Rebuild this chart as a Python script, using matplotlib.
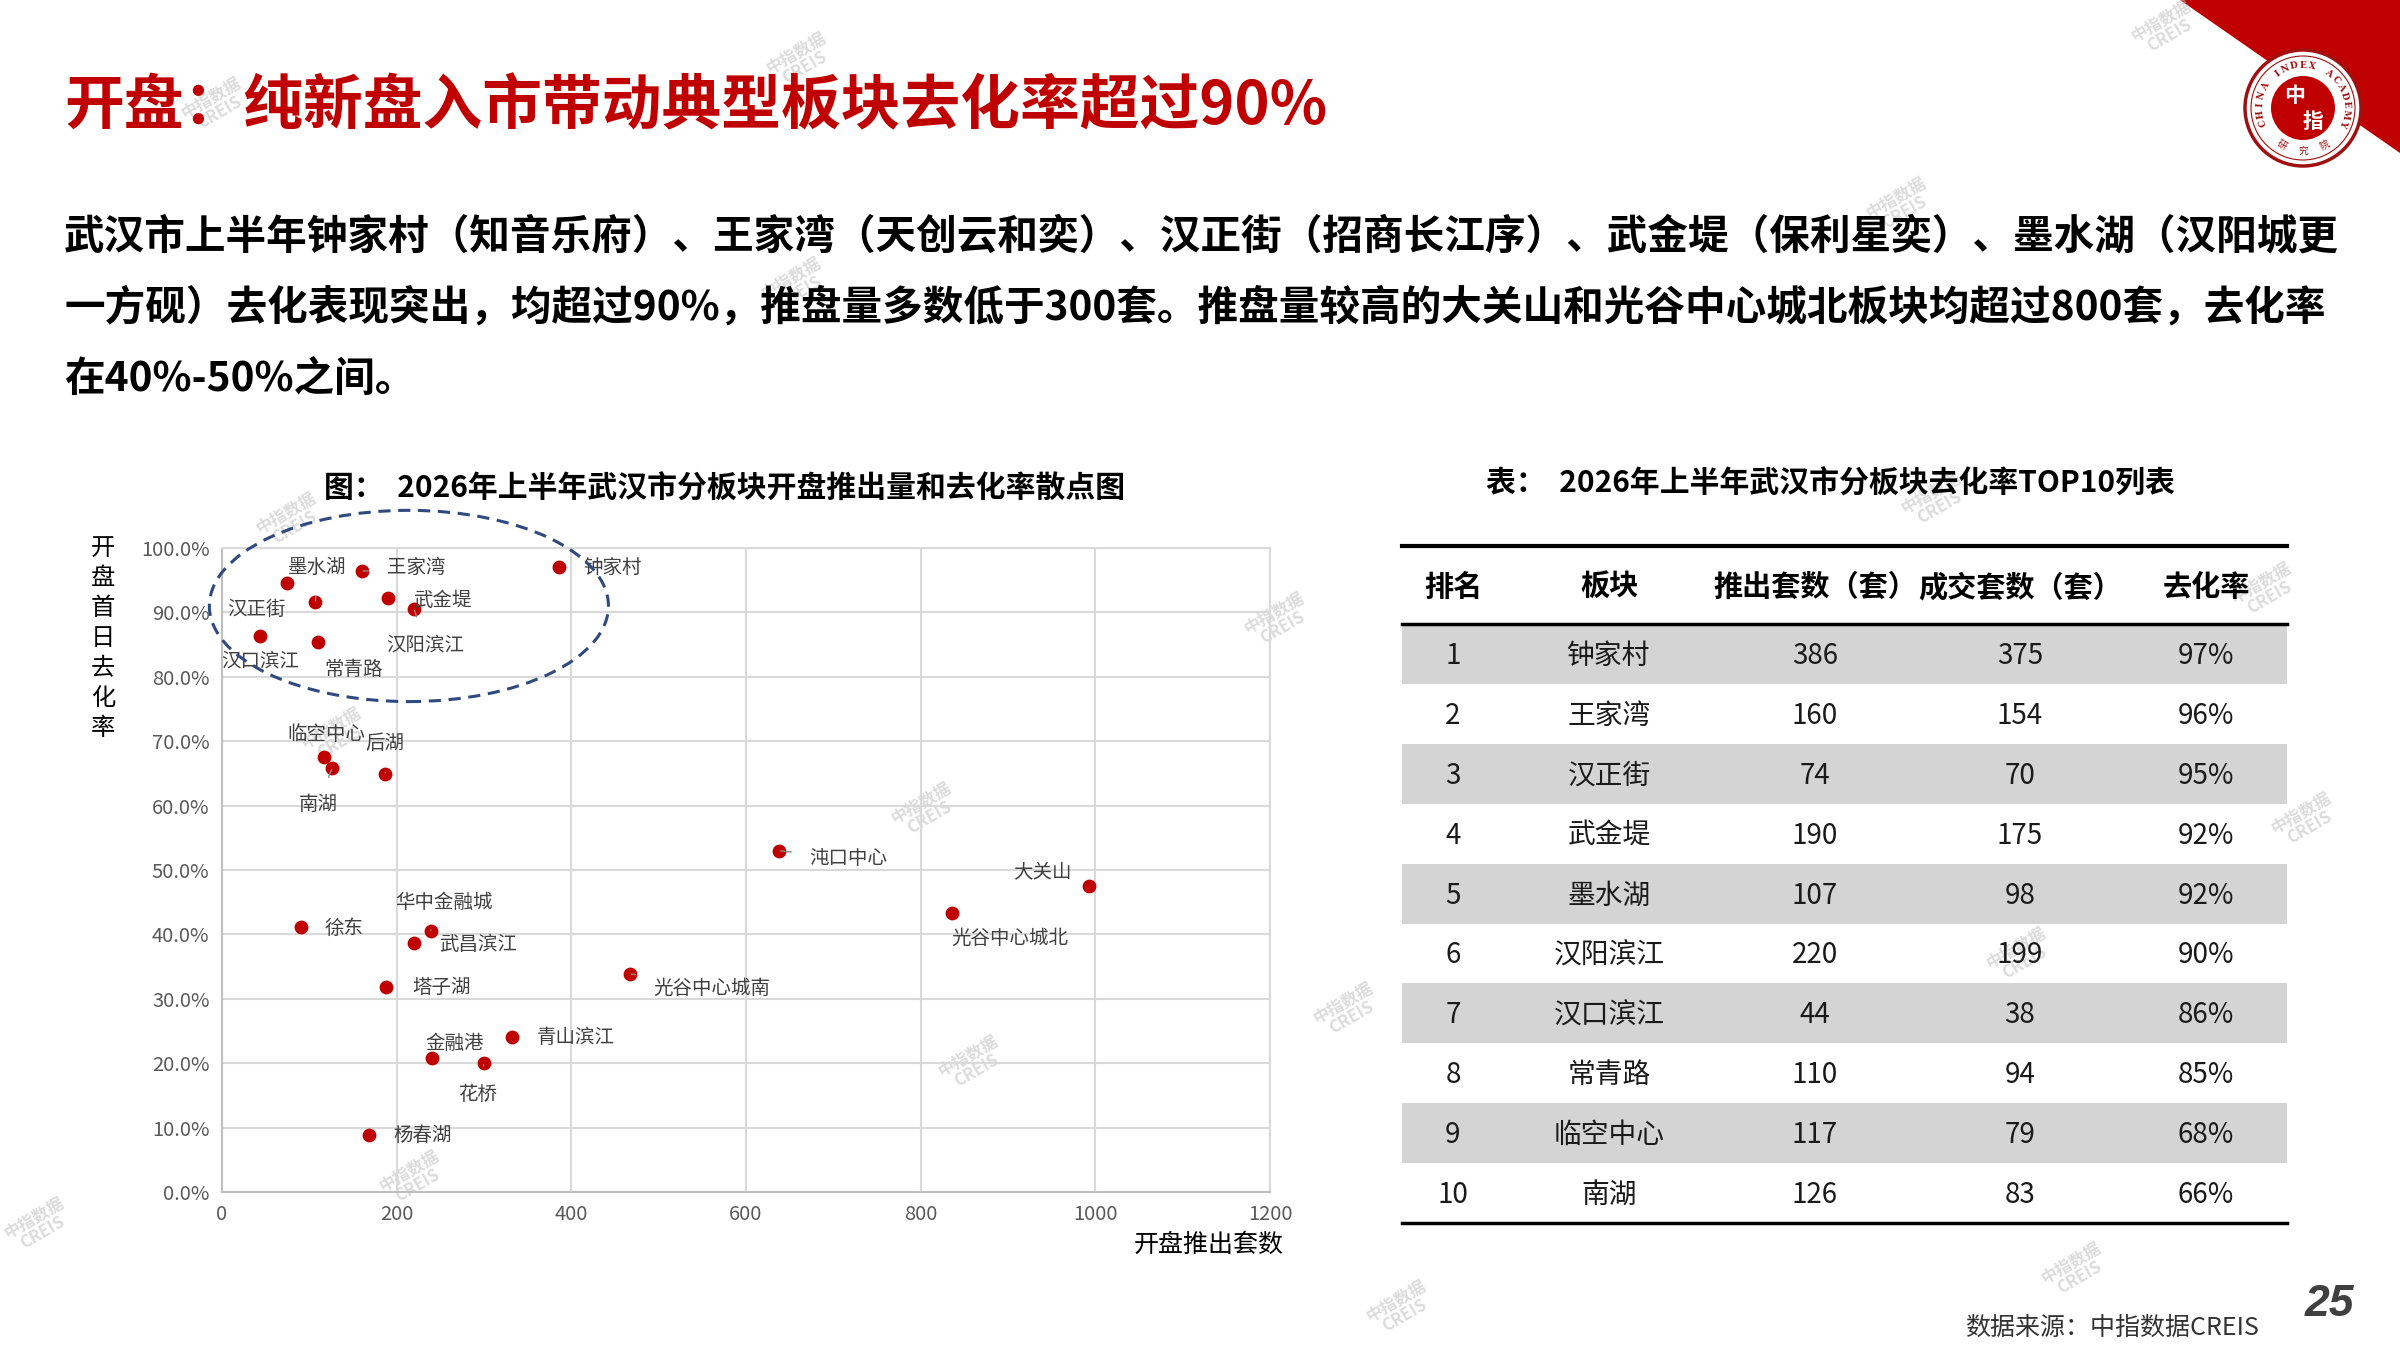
import numpy as np
import matplotlib
matplotlib.use("Agg")
import matplotlib.pyplot as plt
from matplotlib.patches import Ellipse, Rectangle, Polygon, Circle

plt.rcParams['font.family'] = ['Noto Sans CJK SC', 'DejaVu Sans']

# ---- data ----
names = ["钟家村", "王家湾", "墨水湖", "汉正街", "武金堤", "汉阳滨江", "汉口滨江", "常青路",
         "临空中心", "后湖", "南湖", "徐东", "华中金融城", "武昌滨江", "塔子湖", "金融港",
         "青山滨江", "花桥", "杨春湖", "沌口中心", "光谷中心城南", "大关山", "光谷中心城北"]
supply = [386, 160, 107, 74, 190, 220, 44, 110,
          117, 187, 126, 90, 239, 220, 188, 240,
          332, 300, 168, 638, 467, 993, 836]
rate = [97.1, 96.4, 91.6, 94.6, 92.2, 90.5, 86.3, 85.4,
        67.5, 64.9, 65.8, 41.1, 40.6, 38.6, 31.9, 20.8,
        24.1, 20.0, 8.9, 53.0, 33.9, 47.5, 43.4]
# label positions (data units) and whether a leader line is drawn
label_xy = [(447, 96.9), (222, 96.9), (109, 96.9), (40, 90.5), (252, 91.9), (233, 85.0),
            (44, 82.4), (151, 81.2), (119, 71.0), (186, 69.6), (110, 60.1), (140, 40.9),
            (254, 44.9), (293, 38.5), (251, 31.8), (266, 23.0), (405, 24.0), (293, 15.2),
            (230, 8.8), (717, 51.8), (561, 31.6), (939, 49.6), (902, 39.4)]
leader = ["王家湾", "墨水湖", "汉阳滨江", "后湖", "南湖", "华中金融城", "花桥", "沌口中心", "光谷中心城南"]

rank = list(range(1, 11))
top_names = ["钟家村", "王家湾", "汉正街", "武金堤", "墨水湖", "汉阳滨江", "汉口滨江", "常青路", "临空中心", "南湖"]
top_supply = [386, 160, 74, 190, 107, 220, 44, 110, 117, 126]
top_sold = [375, 154, 70, 175, 98, 199, 38, 94, 79, 83]
top_rate = ["97%", "96%", "95%", "92%", "92%", "90%", "86%", "85%", "68%", "66%"]
col_heads = ["排名", "板块", "推出套数（套）", "成交套数（套）", "去化率"]

RED = "#C00000"

fig = plt.figure(figsize=(24, 13.5), dpi=100)

# page layer in pixel coordinates
bg = fig.add_axes([0, 0, 1, 1])
bg.set_xlim(0, 2400)
bg.set_ylim(1350, 0)
bg.axis("off")

# watermarks
wm = [(800, 60), (215, 105), (2165, 28), (1900, 205), (795, 285), (290, 520), (1278, 620),
      (1935, 500), (2265, 590), (925, 810), (2305, 820), (335, 735), (1347, 1010), (2020, 955),
      (972, 1063), (413, 1178), (2075, 1270), (1400, 1308), (38, 1225)]
for x, y in wm:
    bg.text(x, y, "中指数据\nCREIS", fontsize=12, color="#bfbfbf", alpha=0.55, rotation=30,
            ha="center", va="center", linespacing=0.9, fontweight="bold")

# red corner + logo
bg.add_patch(Polygon([(2180, 0), (2400, 0), (2400, 153)], closed=True, color=RED, lw=0))
bg.add_patch(Circle((2303, 108), 58, facecolor="white", edgecolor="#a01010", lw=2.5))
bg.add_patch(Circle((2303, 108), 52, facecolor="none", edgecolor="#a01010", lw=0.8))
bg.add_patch(Circle((2303, 108), 32, facecolor=RED, edgecolor="none"))
bg.text(2295, 96, "中", fontsize=15, color="white", ha="center", va="center", fontweight="bold")
bg.text(2313, 121, "指", fontsize=15, color="white", ha="center", va="center", fontweight="bold")
ring = "CHINA INDEX ACADEMY"
for i, ch in enumerate(ring):
    ang = np.deg2rad(200 - i * 220 / (len(ring) - 1))
    bg.text(2303 + 43 * np.cos(ang), 108 - 43 * np.sin(ang), ch, fontsize=6.5, color="#a01010",
            family="DejaVu Serif", fontweight="bold", ha="center", va="center",
            rotation=np.rad2deg(ang) - 90)
for i, ch in enumerate("研究院"):
    ang = np.deg2rad(240 + i * 30)
    bg.text(2303 + 43 * np.cos(ang), 108 - 43 * np.sin(ang), ch, fontsize=7, color="#a01010",
            ha="center", va="center", rotation=np.rad2deg(ang) + 90)

# titles and body
bg.text(64, 107, "开盘：纯新盘入市带动典型板块去化率超过90%", fontsize=43, color=RED,
        fontweight="bold", ha="left", va="center")
body = ["武汉市上半年钟家村（知音乐府）、王家湾（天创云和奕）、汉正街（招商长江序）、武金堤（保利星奕）、墨水湖（汉阳城更",
        "一方砚）去化表现突出，均超过90%，推盘量多数低于300套。推盘量较高的大关山和光谷中心城北板块均超过800套，去化率",
        "在40%-50%之间。"]
for i, line in enumerate(body):
    bg.text(64, 237 + i * 71, line, fontsize=29.25, color="black", fontweight="bold",
            ha="left", va="center")

bg.text(725, 489, "图：  2026年上半年武汉市分板块开盘推出量和去化率散点图", fontsize=21.5,
        fontweight="bold", ha="center", va="center")
bg.text(1830, 484, "表：  2026年上半年武汉市分板块去化率TOP10列表", fontsize=21.5,
        fontweight="bold", ha="center", va="center")

# table
tx0, tx1 = 1402, 2287
ty_top, ty_head = 546, 624
row_h = 59.9
col_x = [1453, 1609, 1815, 2020, 2206]
for r in range(len(rank)):
    y0 = ty_head + r * row_h
    if r % 2 == 0:
        bg.add_patch(Rectangle((tx0, y0), tx1 - tx0, row_h, facecolor="#d4d4d4", edgecolor="none"))
    vals = [str(rank[r]), top_names[r], str(top_supply[r]), str(top_sold[r]), top_rate[r]]
    for cx, v in zip(col_x, vals):
        bg.text(cx, y0 + row_h / 2 + 2, v, fontsize=20, color="#1a1a1a", ha="center", va="center")
for cx, h in zip(col_x, col_heads):
    bg.text(cx, (ty_top + ty_head) / 2 + 2, h, fontsize=21, fontweight="bold", ha="center", va="center")
bg.plot([tx0, tx1], [ty_top, ty_top], color="black", lw=3)
bg.plot([tx0, tx1], [ty_head, ty_head], color="black", lw=2.5)
y_end = ty_head + len(rank) * row_h
bg.plot([tx0, tx1], [y_end, y_end], color="black", lw=2.5)

# y label stacked vertically
for i, ch in enumerate("开盘首日去化率"):
    bg.text(103, 548 + i * 30, ch, fontsize=17.5, ha="center", va="center")

# footer
bg.text(2112, 1328, "数据来源：中指数据CREIS", fontsize=18, color="#333333", ha="center", va="center")
bg.text(2329, 1305, "25", fontsize=32, color="#404040", ha="center", va="center",
        family="Liberation Sans", fontweight="bold", style="italic")

# scatter chart
ax = fig.add_axes([222 / 2400, 1 - 1192 / 1350, 1048 / 2400, 644 / 1350])
ax.patch.set_alpha(0)
ax.set_xlim(0, 1200)
ax.set_ylim(0, 100)
ax.set_xticks(np.arange(0, 1201, 200))
ax.set_yticks(np.arange(0, 101, 10))
ax.set_yticklabels([f"{v:.1f}%" for v in np.arange(0, 101, 10)])
ax.grid(True, color="#d9d9d9", lw=1.5)
ax.set_axisbelow(True)
for s in ax.spines.values():
    s.set_color("#d9d9d9")
    s.set_linewidth(1.5)
ax.spines["left"].set_color("#bfbfbf")
ax.spines["bottom"].set_color("#bfbfbf")
ax.tick_params(length=0, labelsize=14.5, labelcolor="#595959", pad=9)

ax.scatter(supply, rate, s=80, color=RED, zorder=3)
for n, x, y, (lx, ly) in zip(names, supply, rate, label_xy):
    if n in leader:
        ax.annotate(n, xy=(x, y), xytext=(lx, ly), fontsize=14, color="#404040",
                    ha="center", va="center", zorder=4,
                    arrowprops=dict(arrowstyle="-", color="#8c8c8c", lw=1, shrinkA=11, shrinkB=1))
    else:
        ax.text(lx, ly, n, fontsize=14, color="#404040", ha="center", va="center", zorder=4)

ax.add_patch(Ellipse((214, 91), 457, 29.7, fill=False, edgecolor="#2F4A7E", lw=2.2,
                     linestyle=(0, (4, 2.5)), clip_on=False, zorder=5))

ax.text(1.013, -0.062, "开盘推出套数", transform=ax.transAxes, fontsize=18,
        ha="right", va="top")

fig.savefig("out.png", dpi=100)
